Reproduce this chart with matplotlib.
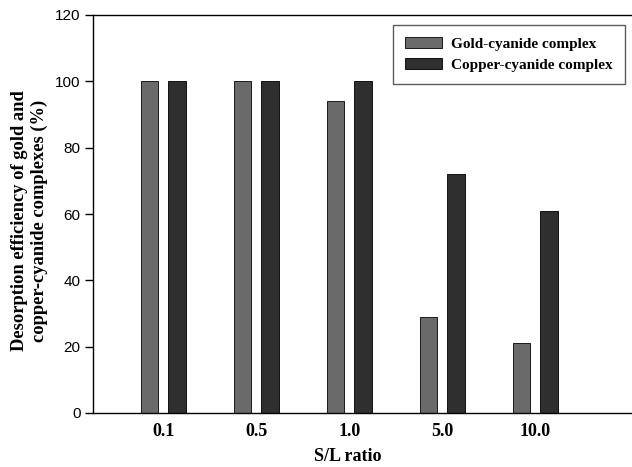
import matplotlib
matplotlib.use("Agg")
import matplotlib.pyplot as plt
import numpy as np

categories = ["0.1", "0.5", "1.0", "5.0", "10.0"]
gold = [100, 100, 94, 29, 21]
copper = [100, 100, 100, 72, 61]
series_names = ["Gold-cyanide complex", "Copper-cyanide complex"]
y_ticks = [0, 20, 40, 60, 80, 100, 120]

W, H = 632, 467
fig = plt.figure(figsize=(W / 100, H / 100), dpi=100)
ax = fig.add_axes([93 / W, 1 - 413 / H, (W - 93) / W, (413 - 15) / H])

x = np.arange(len(categories))
bw = 0.188
off = 0.148
ax.bar(x - off, gold, bw, color="#6a6a6a", edgecolor="#1a1a1a", linewidth=0.7, label=series_names[0])
ax.bar(x + off, copper, bw, color="#2f2f2f", edgecolor="#111111", linewidth=0.7, label=series_names[1])

ax.set_xlim(-0.758, 5.04)
ax.set_ylim(0, 120)
ax.set_yticks(y_ticks)
ax.set_yticklabels([str(v) for v in y_ticks], fontfamily="Liberation Sans", fontsize=11)
ax.set_xticks(x)
ax.set_xticklabels(categories, fontfamily="Liberation Serif", fontweight="bold", fontsize=13)
ax.tick_params(axis="x", length=0, pad=7)
ax.tick_params(axis="y", length=6, width=1, direction="out", pad=3)
ax.spines["right"].set_visible(False)
for s in ["left", "top", "bottom"]:
    ax.spines[s].set_linewidth(1.0)

ax.set_xlabel("S/L ratio", fontfamily="Liberation Serif", fontweight="bold", fontsize=13)
ax.xaxis.set_label_coords((348 - 93) / (W - 93), -(448 - 413) / (413 - 15))
ax.set_ylabel("Desorption efficiency of gold and\ncopper-cyanide complexes (%)",
              fontfamily="Liberation Serif", fontweight="bold", fontsize=13.3,
              linespacing=1.2)
ax.yaxis.set_label_coords(-(93 - 48) / (W - 93), (413 - 221) / (413 - 15))

leg = ax.legend(loc="upper right", bbox_to_anchor=((625 - 93) / (W - 93), 1 - (25 - 15) / (413 - 15)),
                prop={"family": "Liberation Serif", "weight": "bold", "size": 11},
                frameon=True, fancybox=False, edgecolor="#333333", handlelength=2.4,
                handleheight=0.75, borderpad=0.8, labelspacing=0.45, handletextpad=0.6,
                borderaxespad=0)
leg.get_frame().set_linewidth(1.0)

fig.savefig("out.png", dpi=100)
